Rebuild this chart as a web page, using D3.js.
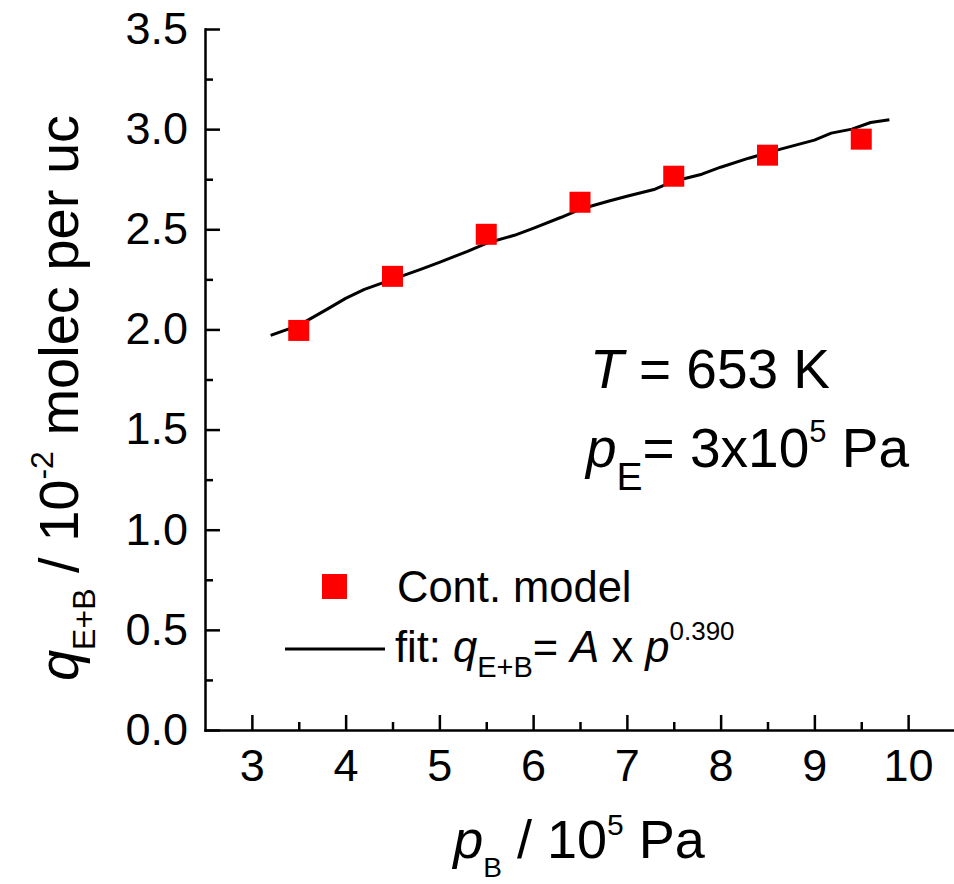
<!DOCTYPE html>
<html>
<head>
<meta charset="utf-8">
<script src="https://cdn.jsdelivr.net/npm/d3@7"></script>
<style>
  html, body { margin: 0; padding: 0; background: #fff; }
  svg { display: block; font-family: "Liberation Sans", Arial, sans-serif; }
</style>
</head>
<body>
<svg id="chart" width="954" height="884"></svg>
<script>
// Co-adsorbed loading of E+B versus partial pressure of B
const xTickValues = [3, 4, 5, 6, 7, 8, 9, 10];
const xMinorValues = [3.5, 4.5, 5.5, 6.5, 7.5, 8.5, 9.5];
const yTickValues = [0, 0.5, 1.0, 1.5, 2.0, 2.5, 3.0, 3.5];
const yMinorValues = [0.25, 0.75, 1.25, 1.75, 2.25, 2.75, 3.25];

// continuum model results
const pressureB = [3.5, 4.5, 5.5, 6.5, 7.5, 8.5, 9.5];
const loadingEB = [1.995, 2.265, 2.475, 2.635, 2.765, 2.87, 2.95];

// power-law fit curve, q = A x p^0.390
const fitPressure = [3.2, 3.5, 3.8, 4.0, 4.2, 4.5, 4.8, 5.0, 5.3, 5.5, 5.8, 6.0, 6.3, 6.5, 6.8, 7.0, 7.3, 7.5, 7.8, 8.0, 8.3, 8.64, 9.0, 9.18, 9.4, 9.6, 9.8];
const fitLoading  = [1.97, 2.02, 2.10, 2.155, 2.20, 2.25, 2.30, 2.335, 2.39, 2.43, 2.47, 2.505, 2.56, 2.60, 2.64, 2.665, 2.70, 2.74, 2.775, 2.81, 2.855, 2.90, 2.945, 2.98, 3.0, 3.033, 3.047];

const svg = d3.select("#chart");

const x = d3.scaleLinear().domain([2.5, 10.5]).range([205, 955]);
const y = d3.scaleLinear().domain([0, 3.5]).range([730, 29]);

const fmtY = d3.format(".1f");
const axisWidth = 2.5;

// minor ticks
svg.append("g")
  .attr("transform", `translate(0,${y(0)})`)
  .call(d3.axisBottom(x).tickValues(xMinorValues).tickSizeInner(-8).tickSizeOuter(0).tickFormat(""))
  .call(g => g.select(".domain").remove())
  .call(g => g.selectAll("line").attr("stroke", "#000").attr("stroke-width", axisWidth));

svg.append("g")
  .attr("transform", `translate(${x(2.5)},0)`)
  .call(d3.axisLeft(y).tickValues(yMinorValues).tickSizeInner(-8).tickSizeOuter(0).tickFormat(""))
  .call(g => g.select(".domain").remove())
  .call(g => g.selectAll("line").attr("stroke", "#000").attr("stroke-width", axisWidth));

// major axes
svg.append("g")
  .attr("transform", `translate(0,${y(0)})`)
  .call(d3.axisBottom(x).tickValues(xTickValues).tickSizeInner(-15).tickSizeOuter(0).tickPadding(19).tickFormat(d3.format("d")))
  .call(g => g.select(".domain").attr("stroke", "#000").attr("stroke-width", axisWidth).attr("stroke-linecap", "square"))
  .call(g => g.selectAll("line").attr("stroke", "#000").attr("stroke-width", axisWidth))
  .call(g => g.selectAll("text").attr("font-size", 45).attr("font-family", "Liberation Sans, Arial, sans-serif").attr("fill", "#000"));

svg.append("g")
  .attr("transform", `translate(${x(2.5)},0)`)
  .call(d3.axisLeft(y).tickValues(yTickValues).tickSizeInner(-15).tickSizeOuter(0).tickPadding(17).tickFormat(fmtY))
  .call(g => g.select(".domain").attr("stroke", "#000").attr("stroke-width", axisWidth).attr("stroke-linecap", "square"))
  .call(g => g.selectAll("line").attr("stroke", "#000").attr("stroke-width", axisWidth))
  .call(g => g.selectAll("text").attr("font-size", 45).attr("font-family", "Liberation Sans, Arial, sans-serif").attr("fill", "#000"));

// fit curve
const fitData = fitPressure.map((p, i) => [p, fitLoading[i]]);
svg.append("path")
  .datum(fitData)
  .attr("fill", "none")
  .attr("stroke", "#000")
  .attr("stroke-width", 3)
  .attr("stroke-linejoin", "round")
  .attr("d", d3.line().x(d => x(d[0])).y(d => y(d[1])));

// model points
const sq = 21;
svg.append("g")
  .selectAll("rect")
  .data(pressureB.map((p, i) => [p, loadingEB[i]]))
  .join("rect")
  .attr("x", d => x(d[0]) - sq / 2)
  .attr("y", d => y(d[1]) - sq / 2)
  .attr("width", sq)
  .attr("height", sq)
  .attr("fill", "#ff0000");

// legend
const leg = svg.append("g");
leg.append("rect").attr("x", 322).attr("y", 574).attr("width", 25).attr("height", 25).attr("fill", "#ff0000");
leg.append("text").attr("x", 397).attr("y", 602).attr("font-size", 43.5).text("Cont. model");
leg.append("line").attr("x1", 285).attr("x2", 385).attr("y1", 649).attr("y2", 649)
  .attr("stroke", "#000").attr("stroke-width", 3);
const fitText = leg.append("text").attr("x", 395).attr("y", 662).attr("font-size", 43.5);
fitText.append("tspan").text("fit: ");
fitText.append("tspan").attr("font-style", "italic").text("q");
fitText.append("tspan").attr("font-size", 29).attr("dy", 15).text("E+B");
fitText.append("tspan").attr("dy", -15).text("= ");
fitText.append("tspan").attr("font-style", "italic").text("A");
fitText.append("tspan").text(" x ");
fitText.append("tspan").attr("font-style", "italic").text("p");
fitText.append("tspan").attr("font-size", 26).attr("dy", -22).text("0.390");

// conditions
const tText = svg.append("text").attr("x", 590).attr("y", 388).attr("font-size", 55);
tText.append("tspan").attr("font-style", "italic").text("T");
tText.append("tspan").text(" = 653 K");

const pText = svg.append("text").attr("x", 586).attr("y", 467).attr("font-size", 55);
pText.append("tspan").attr("font-style", "italic").text("p");
pText.append("tspan").attr("font-size", 39).attr("dy", 23).text("E");
pText.append("tspan").attr("dy", -23).text("= 3x10");
pText.append("tspan").attr("font-size", 31).attr("dy", -25).text("5");
pText.append("tspan").attr("dy", 25).text(" Pa");

// x axis title
const xTitle = svg.append("text").attr("x", 579).attr("y", 858).attr("font-size", 54).attr("text-anchor", "middle");
xTitle.append("tspan").attr("font-style", "italic").text("p");
xTitle.append("tspan").attr("font-size", 28).attr("dy", 19).text("B");
xTitle.append("tspan").attr("dy", -19).text(" / 10");
xTitle.append("tspan").attr("font-size", 30).attr("dy", -23).text("5");
xTitle.append("tspan").attr("dy", 23).text(" Pa");

// y axis title
const yTitle = svg.append("text")
  .attr("transform", "translate(78,398) rotate(-90)")
  .attr("font-size", 56)
  .attr("text-anchor", "middle");
yTitle.append("tspan").attr("font-style", "italic").text("q");
yTitle.append("tspan").attr("font-size", 32).attr("dy", 17).text("E+B");
yTitle.append("tspan").attr("dy", -17).text(" / 10");
yTitle.append("tspan").attr("font-size", 32).attr("dy", -25).text("-2");
yTitle.append("tspan").attr("dy", 25).text(" molec per uc");
</script>
</body>
</html>
